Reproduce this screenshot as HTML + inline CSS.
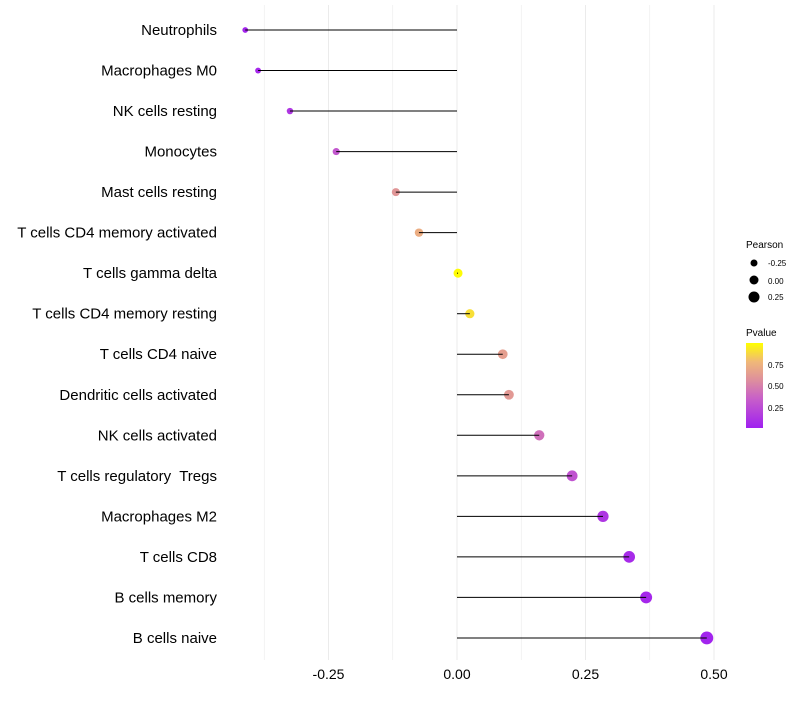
<!DOCTYPE html>
<html><head><meta charset="utf-8"><style>
body{margin:0;background:#fff;font-family:"Liberation Sans",sans-serif}
text{white-space:pre}
</style></head><body>
<svg id="chart" width="800" height="700" xmlns="http://www.w3.org/2000/svg" font-family="Liberation Sans, sans-serif">
<defs><linearGradient id="pg" x1="0" y1="1" x2="0" y2="0">
<stop offset="0" stop-color="#A020F0"/><stop offset="0.35" stop-color="#C860C8"/><stop offset="0.55" stop-color="#DC8CA0"/><stop offset="0.78" stop-color="#F0B878"/><stop offset="1" stop-color="#FFFF00"/></linearGradient></defs>
<g id="grid"></g><g id="dots"></g><g id="marks"></g><g id="labels"></g>
<g>
<text x="746" y="248" font-size="10">Pearson</text>
<circle cx="754" cy="263" r="3.5" fill="#000"/><text x="768" y="266" font-size="8">-0.25</text>
<circle cx="754" cy="280" r="4.5" fill="#000"/><text x="768" y="284" font-size="8">0.00</text>
<circle cx="754" cy="297" r="5.5" fill="#000"/><text x="768" y="300" font-size="8">0.25</text>
<text x="746" y="336" font-size="10">Pvalue</text>
<rect x="746" y="343" width="17" height="85" fill="url(#pg)"/>
<text x="768" y="368" font-size="8">0.75</text>
<text x="768" y="389" font-size="8">0.50</text>
<text x="768" y="411" font-size="8">0.25</text>
</g>
</svg>
<script>
const categories=["Neutrophils","Macrophages M0","NK cells resting","Monocytes","Mast cells resting","T cells CD4 memory activated","T cells gamma delta","T cells CD4 memory resting","T cells CD4 naive","Dendritic cells activated","NK cells activated","T cells regulatory  Tregs","Macrophages M2","T cells CD8","B cells memory","B cells naive"];
const pearson=[-0.412,-0.387,-0.325,-0.235,-0.119,-0.074,0.002,0.025,0.089,0.101,0.160,0.224,0.284,0.335,0.368,0.486];
const pvalue=[0.03,0.04,0.12,0.3,0.6,0.72,0.99,0.9,0.65,0.62,0.42,0.28,0.12,0.06,0.04,0.02];
const xTicks=[-0.25,0,0.25,0.5];
const xTickLabels=["-0.25","0.00","0.25","0.50"];
const NS="http://www.w3.org/2000/svg";
const X=v=>457+v*514;
const Y=i=>30+i*40.53;
const R=v=>4.5+4*v;
function color(p){
 const stops=[[0,[160,32,240]],[0.35,[200,96,200]],[0.55,[220,140,160]],[0.78,[240,184,120]],[1,[255,255,0]]];
 for(let k=1;k<stops.length;k++){if(p<=stops[k][0]){const a=stops[k-1],b=stops[k];const t=(p-a[0])/(b[0]-a[0]);return `rgb(${a[1].map((c,j)=>Math.round(c+(b[1][j]-c)*t)).join(',')})`;}}
 return 'rgb(255,255,0)';
}
function mk(tag,attrs,parent){const e=document.createElementNS(NS,tag);for(const k in attrs)e.setAttribute(k,attrs[k]);parent.appendChild(e);return e;}
const grid=document.getElementById('grid'),marks=document.getElementById('marks'),dots=document.getElementById('dots'),labels=document.getElementById('labels');
for(let v=-0.375;v<=0.5;v+=0.125){const g=mk('line',{x1:X(v),x2:X(v),y1:5,y2:660,stroke:'#ebebeb','stroke-width':Math.abs((v/0.25)%1)<1e-6?1:0.6},grid);

}
xTicks.forEach((v,i)=>{const t=mk('text',{x:X(v),y:679,'font-size':14,'text-anchor':'middle',fill:'#000'},labels);t.textContent=xTickLabels[i];

});
categories.forEach((c,i)=>{
 const t=mk('text',{x:217,y:Y(i)+5,'font-size':15,'text-anchor':'end',fill:'#000'},labels);t.textContent=c;
 
 
 const d=mk('circle',{cx:X(pearson[i]),cy:Y(i),r:R(pearson[i]),fill:color(pvalue[i])},dots);
 
 
 const l=mk('line',{x1:X(0),x2:X(pearson[i]),y1:Y(i),y2:Y(i),stroke:'#000','stroke-width':1},marks);
 
 
});
</script>
</body></html>
